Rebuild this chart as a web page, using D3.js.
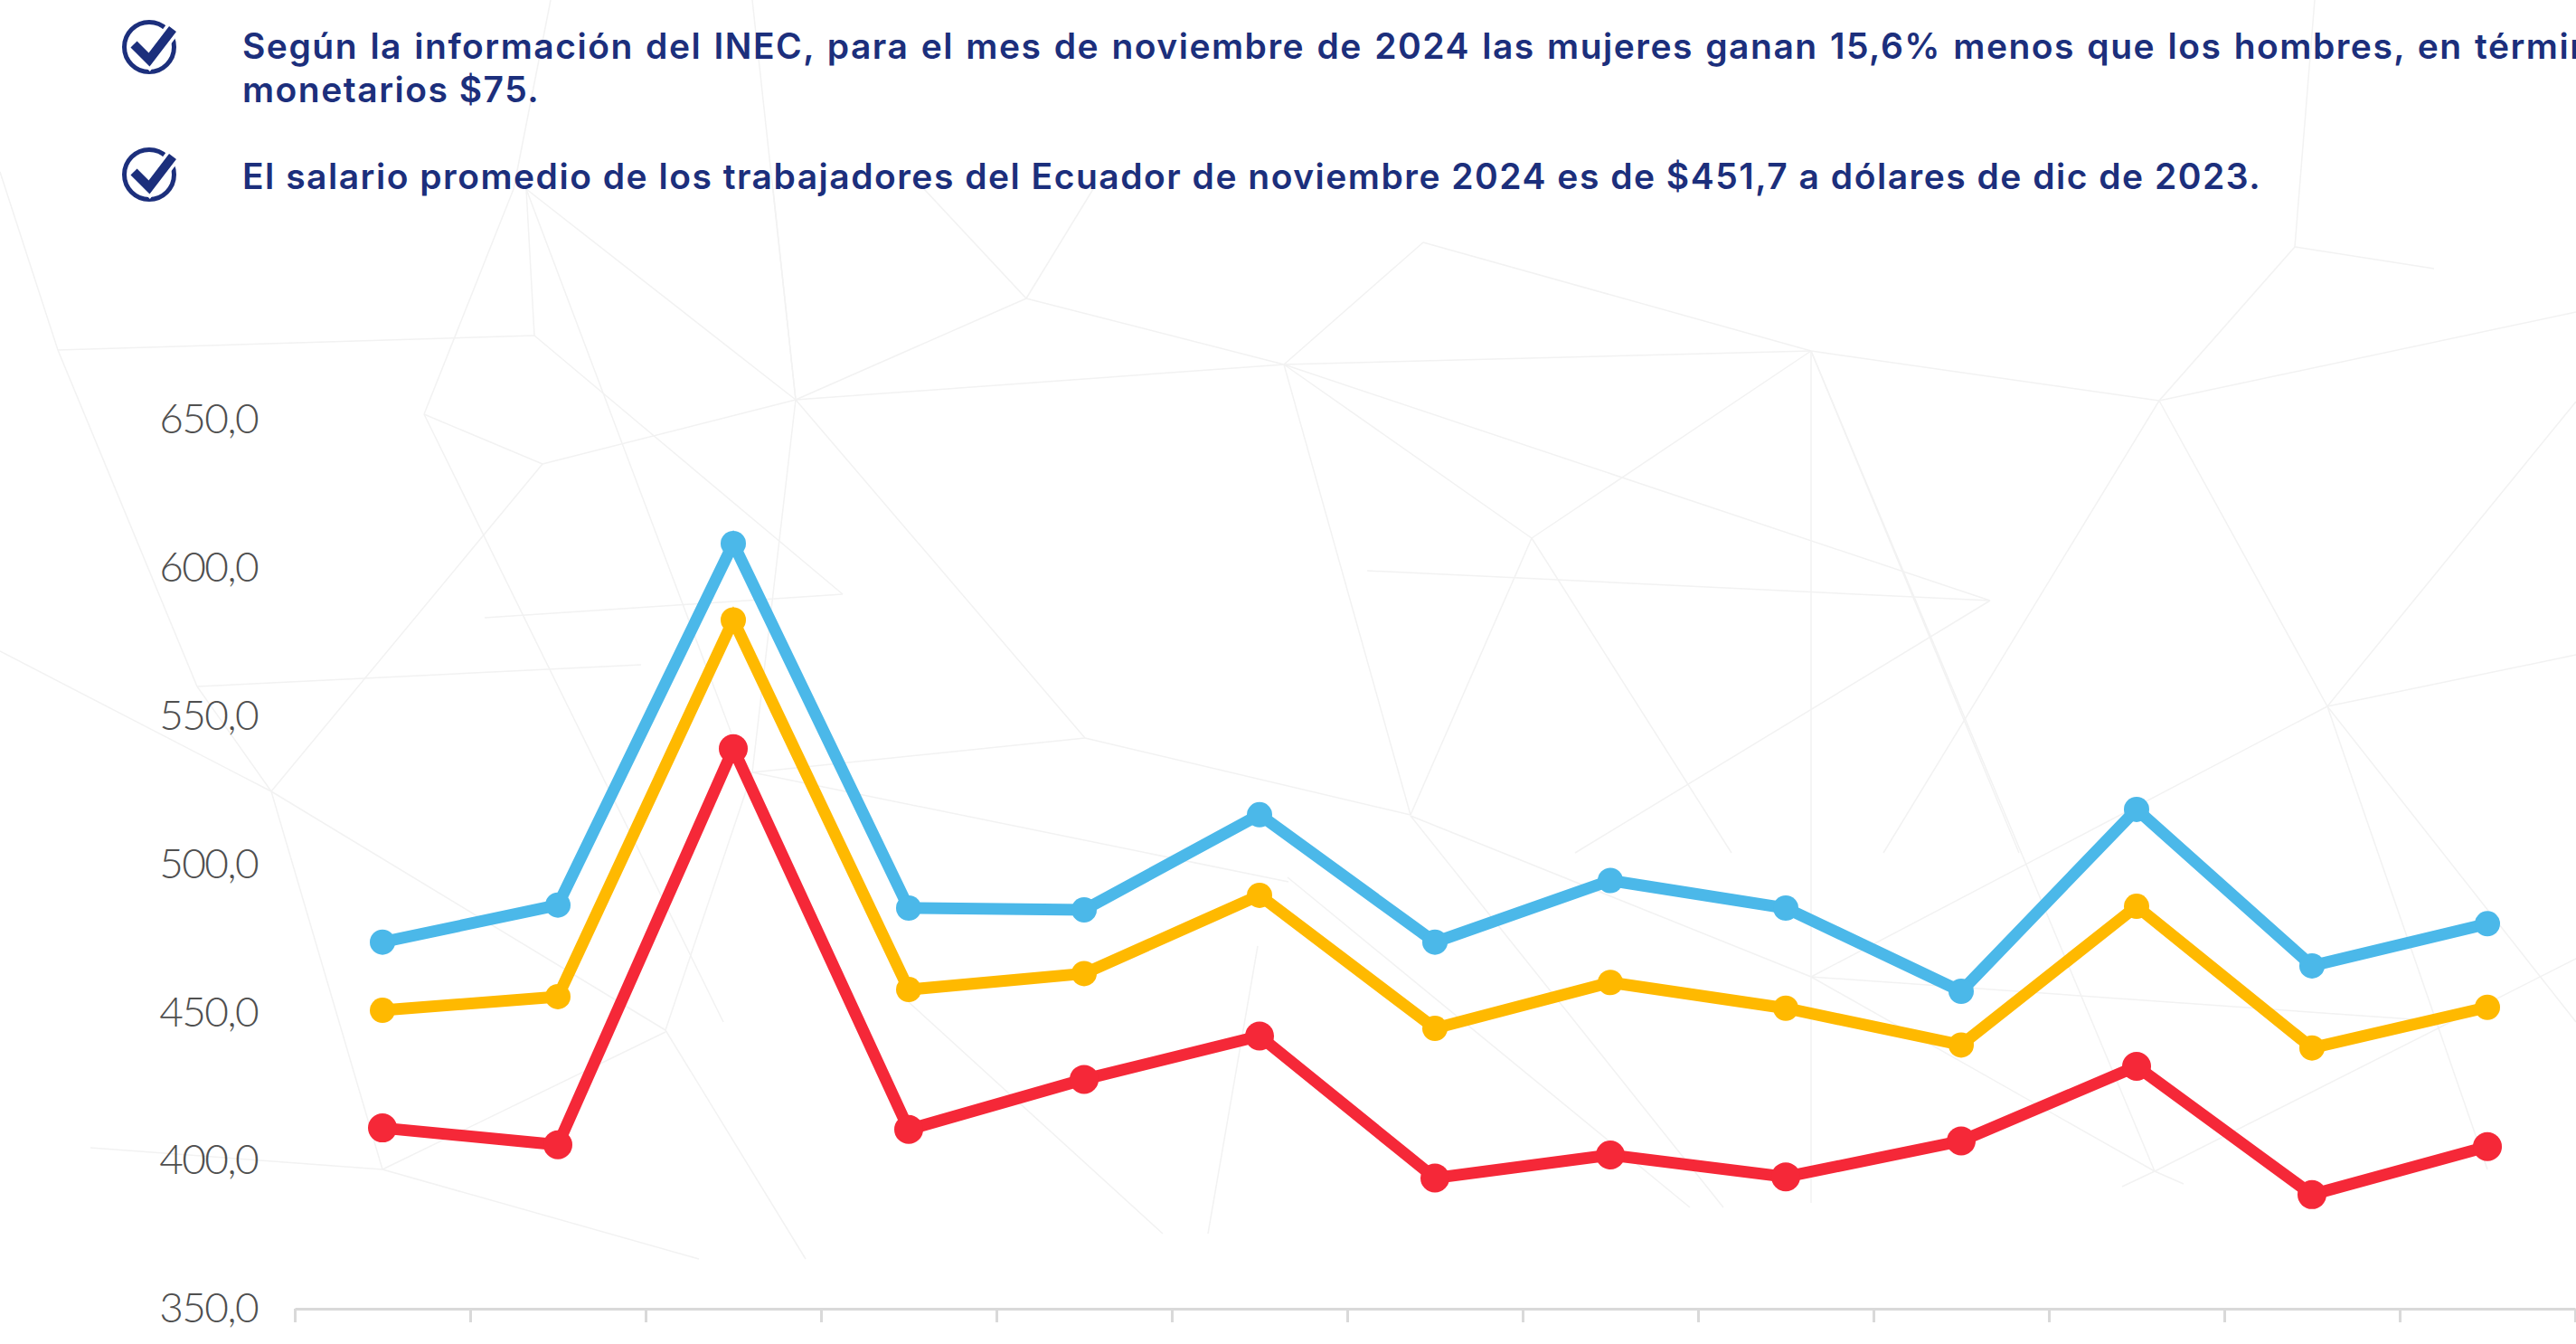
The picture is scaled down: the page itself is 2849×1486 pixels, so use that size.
<!DOCTYPE html>
<html>
<head>
<meta charset="utf-8">
<script src="https://cdn.jsdelivr.net/npm/d3@7"></script>
<style>
  html, body { margin: 0; background: #fff; overflow: hidden; }
  .note { font-family: "Inter"; font-weight: 600; font-size: 39px; letter-spacing: 1.5px; fill: #1c2f7c; }
  .y.axis text { font-family: "Lato"; font-weight: 300; font-size: 46px; letter-spacing: -1.6px; fill: #4f4f4f; }
  .x.axis path, .x.axis line { stroke: #d9d9d9; stroke-width: 3; }
  .mesh line { stroke: #f2f2f2; stroke-width: 1.5; }
</style>
</head>
<body>
<div id="chart"></div>
<script>
const categories = ["nov-23", "dic-23", "ene-24", "feb-24", "mar-24", "abr-24", "may-24", "jun-24", "jul-24", "ago-24", "sep-24", "oct-24", "nov-24"];
const hombres = [473.7, 486.2, 608.2, 485.2, 484.6, 516.7, 473.7, 494.5, 485.2, 457.1, 518.5, 465.7, 479.9];
const promedio = [450.7, 455.3, 582.4, 457.7, 463.1, 489.5, 444.6, 460.1, 451.4, 439, 485.8, 438, 451.7];
const mujeres = [411, 405.3, 539, 410.5, 427.4, 442, 394.1, 401.9, 394.5, 406.6, 431.8, 388.5, 404.7];
const yTicks = [350, 400, 450, 500, 550, 600, 650];
const notes = [
  "Según la información del INEC, para el mes de noviembre de 2024 las mujeres ganan 15,6% menos que los hombres, en términos",
  "monetarios $75.",
  "El salario promedio de los trabajadores del Ecuador de noviembre 2024 es de $451,7 a dólares de dic de 2023."
];

// faint polygon pattern behind the chart, only decoration
const meshLines = [
  [880, 442, 1135, 330], [880, 442, 1420, 403], [1135, 330, 1420, 403], [880, 442, 582, 209], [880, 442, 832, 0],
  [880, 442, 832, 854], [880, 442, 1200, 816], [880, 442, 855, 209], [469, 458, 568, 209], [469, 458, 600, 513],
  [469, 458, 800, 1130], [568, 209, 609, 0], [582, 209, 809, 811], [1135, 330, 1022, 209], [1135, 330, 1209, 209],
  [300, 875, 600, 513], [300, 875, 218, 759], [600, 513, 880, 442], [932, 657, 536, 683], [218, 759, 709, 735],
  [1200, 816, 832, 854], [832, 854, 1425, 975], [1200, 816, 1560, 901], [1420, 403, 1574, 268], [1574, 268, 2003, 388],
  [1420, 403, 2003, 388], [2003, 388, 2388, 443], [2388, 443, 2849, 345], [1420, 403, 1694, 595], [2003, 388, 1694, 595],
  [2003, 388, 2233, 943], [1420, 403, 2201, 664], [2003, 388, 2003, 1330], [1512, 631, 2201, 664], [1694, 595, 1560, 901],
  [1694, 595, 1915, 943], [1420, 403, 1560, 901], [2388, 443, 2083, 943], [2388, 443, 2574, 781], [2574, 781, 2849, 724],
  [2574, 781, 2849, 444], [2574, 781, 2751, 1293], [2574, 781, 2849, 1130], [2201, 664, 1742, 943], [2538, 273, 2388, 443],
  [2538, 273, 2692, 297], [2538, 273, 2560, 0], [1560, 902, 2003, 1080], [2003, 1080, 2669, 1127], [2003, 1080, 2383, 1295],
  [2383, 1295, 2849, 1060], [2003, 1080, 2574, 781], [1560, 902, 1906, 1335], [1424, 970, 1869, 1335], [2003, 388, 2383, 1295],
  [2383, 1295, 2415, 1309], [2383, 1295, 2347, 1312], [300, 875, 423, 1293], [300, 875, 736, 1139], [423, 1293, 100, 1269],
  [423, 1293, 773, 1392], [423, 1293, 736, 1141], [736, 1139, 891, 1392], [832, 854, 736, 1139], [1005, 1108, 1286, 1364],
  [1391, 1046, 1336, 1364], [64, 387, 591, 371], [300, 875, 0, 720], [64, 387, 0, 190], [64, 387, 218, 759], [591, 371, 582, 209],
  [591, 371, 932, 657]
];

const width = 2849;
const height = 1486;
const colors = { hombres: "#4bb8e9", promedio: "#ffb900", mujeres: "#f52838" };

const svg = d3.select("#chart").append("svg")
  .attr("width", width)
  .attr("height", height);

svg.append("g").attr("class", "mesh")
  .selectAll("line")
  .data(meshLines)
  .join("line")
  .attr("x1", d => d[0])
  .attr("y1", d => d[1])
  .attr("x2", d => d[2])
  .attr("y2", d => d[3]);

// the notes on top
const checks = svg.append("g").selectAll("g")
  .data([52, 193])
  .join("g")
  .attr("transform", d => "translate(165," + d + ")");
checks.append("circle")
  .attr("r", 27.5)
  .attr("fill", "none")
  .attr("stroke", "#1c2f7c")
  .attr("stroke-width", 5);
checks.append("path")
  .attr("d", "M-17,-3 L0,14 L26,-20")
  .attr("fill", "none")
  .attr("stroke", "#fff")
  .attr("stroke-width", 17);
checks.append("path")
  .attr("d", "M-17,-3 L0,14 L26,-20")
  .attr("fill", "none")
  .attr("stroke", "#1c2f7c")
  .attr("stroke-width", 10);

svg.append("g").selectAll("text")
  .data(notes)
  .join("text")
  .attr("class", "note")
  .attr("x", 268)
  .attr("y", (d, i) => [65, 113, 209][i])
  .style("word-spacing", (d, i) => i === 0 ? "2px" : "0")
  .text(d => d);

// scales
const x = d3.scaleBand().domain(categories).range([326, 2848]);
const xEdge = d3.scaleLinear().domain([0, categories.length]).range([326, 2848]);
const y = d3.scaleLinear().domain([350, 650]).range([1447, 464]);

const esFormat = d3.formatLocale({ decimal: ",", thousands: ".", grouping: [3], currency: ["$", ""] }).format(".1f");

svg.append("g")
  .attr("class", "y axis")
  .attr("transform", "translate(326,0)")
  .call(d3.axisLeft(y).tickValues(yTicks).tickSize(0).tickPadding(41).tickFormat(esFormat))
  .call(g => g.select(".domain").remove());

svg.append("g")
  .attr("class", "x axis")
  .attr("transform", "translate(0,1447)")
  .call(d3.axisBottom(xEdge).tickValues(d3.range(categories.length + 1)).tickSize(15).tickSizeOuter(0).tickFormat(""));

const line = d3.line()
  .x((d, i) => x(categories[i]) + x.bandwidth() / 2)
  .y(d => y(d));

const series = [
  { name: "hombres", values: hombres, r: 14 },
  { name: "promedio", values: promedio, r: 14 },
  { name: "mujeres", values: mujeres, r: 16 }
];

series.forEach(function(s) {
  svg.append("path")
    .datum(s.values)
    .attr("fill", "none")
    .attr("stroke", colors[s.name])
    .attr("stroke-width", 13)
    .attr("d", line);
  svg.append("g").selectAll("circle")
    .data(s.values)
    .join("circle")
    .attr("cx", (d, i) => x(categories[i]) + x.bandwidth() / 2)
    .attr("cy", d => y(d))
    .attr("r", s.r)
    .attr("fill", colors[s.name]);
});
</script>
</body>
</html>
